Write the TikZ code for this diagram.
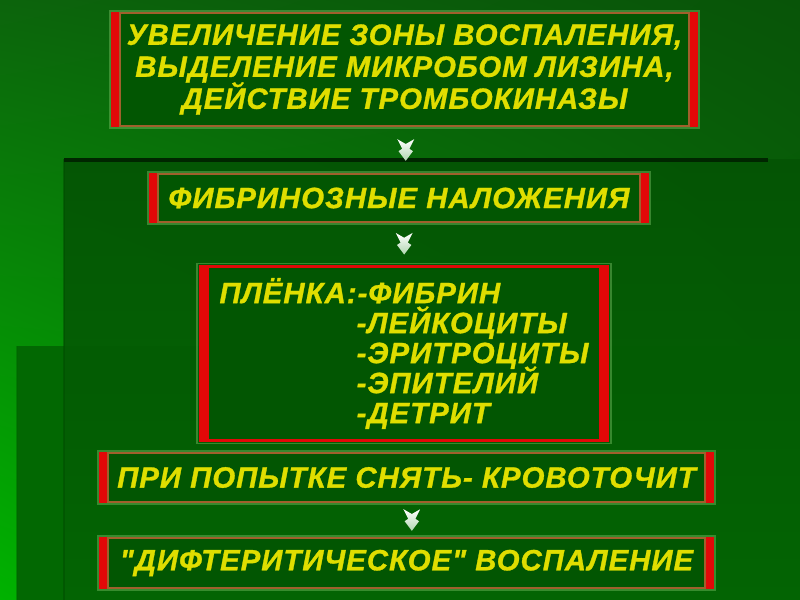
\documentclass[tikz,border=0pt]{standalone}
\usepackage{fontspec}
\usepackage{xcolor}
\newfontfamily\plaquefont{Liberation Sans}[LetterSpace=3.5, FakeBold=1]
\usetikzlibrary{positioning, shadings}
\setlength{\lineskiplimit}{-20pt}

\definecolor{bgtopleft}{RGB}{12,100,12}
\definecolor{bgtopright}{RGB}{8,84,8}
\definecolor{bgbotleft}{RGB}{0,178,0}
\definecolor{bgbotright}{RGB}{6,112,6}
\definecolor{panelupper}{RGB}{4,84,4}
\definecolor{panellower}{RGB}{4,100,4}
\definecolor{panelband}{RGB}{2,104,2}
\definecolor{boxgreen}{RGB}{2,86,2}
\definecolor{framebrown}{RGB}{160,96,44}
\definecolor{barred}{RGB}{226,8,8}
\definecolor{textyellow}{RGB}{224,222,0}
\definecolor{arrowedge}{RGB}{176,214,176}
\definecolor{halo}{RGB}{120,190,100}

\tikzset{
  plaque/.style={draw=framebrown, line width=1.2pt, fill=boxgreen, text=textyellow,
    font=\plaquefont\bfseries\itshape\fontsize{22}{24}\selectfont,
    align=center, inner sep=0pt},
  redbar/.style={fill=barred},
  fletch/.pic={
    \shade[top color=white, bottom color=arrowedge, scale=1.2]
      (-7,-9) -- (0,-5) -- (7,-9) -- (3,-1) -- (6,1) -- (0,9) -- (-6,1) -- (-3,-1) -- cycle;
  }
}

\begin{document}
\begin{tikzpicture}[x=0.75pt, y=-0.75pt]
  \useasboundingbox (0,0) rectangle (800,600);
  % background and the two darker panels
  \shade[upper left=bgtopleft, upper right=bgtopright, lower left=bgbotleft, lower right=bgbotright]
    (0,0) rectangle (800,600);
  \fill[panelband] (17,346) rectangle (800,600);
  \draw[black!60!green, opacity=0.5, line width=1.5pt] (17,346) -- (17,600);
  \shade[top color=panelupper, bottom color=panellower, opacity=0.92] (64,159) rectangle (800,600);
  \draw[black!70!green, opacity=0.5, line width=1.5pt] (64,159) -- (64,600);
  \draw[black!85!green, line width=2.5pt] (64,160) -- (768,160);

  % the chain of plaques
  \node[plaque, minimum width=426.75pt, minimum height=84.75pt] (zone) at (404.5,69.5)
    {УВЕЛИЧЕНИЕ ЗОНЫ ВОСПАЛЕНИЯ,\\ВЫДЕЛЕНИЕ МИКРОБОМ ЛИЗИНА,\\ДЕЙСТВИЕ ТРОМБОКИНАЗЫ};
  \node[plaque, minimum width=361.5pt, minimum height=36pt] (fibrin) at (399,198)
    {ФИБРИНОЗНЫЕ НАЛОЖЕНИЯ};
  \node[plaque, draw=barred, line width=2.2pt, minimum width=294pt, minimum height=131pt,
    font=\plaquefont\bfseries\itshape\fontsize{22}{22.5}\selectfont,
    align=left] (film) at (404,353.5)
    {ПЛЁНКА:-ФИБРИН\\
     \hphantom{ПЛЁНКА:}-ЛЕЙКОЦИТЫ\\
     \hphantom{ПЛЁНКА:}-ЭРИТРОЦИТЫ\\
     \hphantom{ПЛЁНКА:}-ЭПИТЕЛИЙ\\
     \hphantom{ПЛЁНКА:}-ДЕТРИТ};
  \node[plaque, minimum width=447.75pt, minimum height=36.75pt] (bleed) at (406.5,477.5)
    {ПРИ ПОПЫТКЕ СНЯТЬ- КРОВОТОЧИТ};
  \node[plaque, minimum width=447.75pt, minimum height=37.5pt] (diphth) at (406.5,563)
    {"ДИФТЕРИТИЧЕСКОЕ" ВОСПАЛЕНИЕ};

  % red bars on the sides, soft halo round each plaque
  \foreach \b in {zone,fibrin,film,bleed,diphth} {
    \fill[redbar] (\b.north west) rectangle ([xshift=-6pt]\b.south west);
    \fill[redbar] (\b.north east) rectangle ([xshift=6pt]\b.south east);
    \draw[halo, opacity=0.45, line width=1.2pt]
      ([shift={(-7pt,1pt)}]\b.north west) rectangle ([shift={(7pt,-1pt)}]\b.south east);
  }

  % arrows between plaques
  \path (zone.south) -- (fibrin.north) coordinate[pos=0.5, xshift=3pt] (a1);
  \path (fibrin.south) -- (film.north) coordinate[pos=0.5, xshift=2pt] (a2);
  \path (bleed.south) -- (diphth.north) coordinate[pos=0.5, xshift=4pt] (a3);
  \foreach \a in {a1,a2,a3}
    \pic at (\a) {fletch};
\end{tikzpicture}
\end{document}
